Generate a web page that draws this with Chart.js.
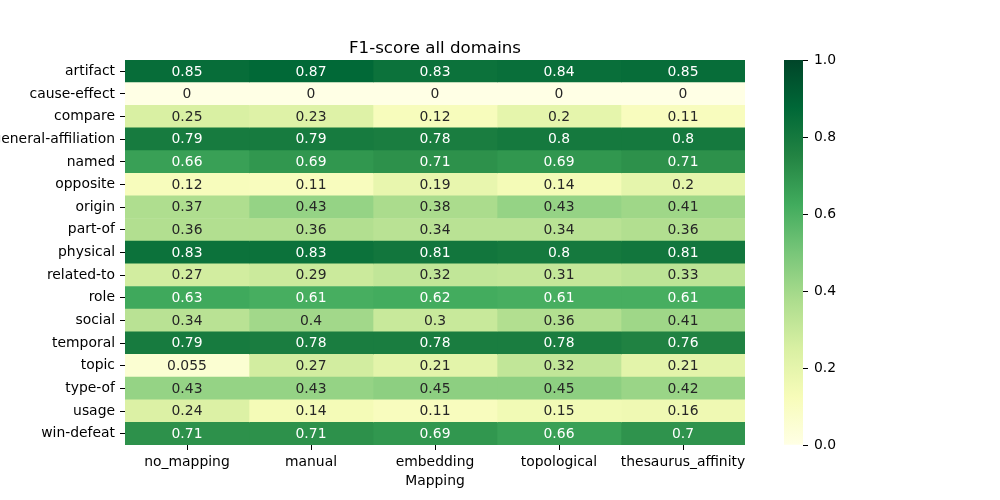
<!DOCTYPE html>
<html><head><meta charset="utf-8">
<script src="https://cdn.jsdelivr.net/npm/chart.js@4.4.1/dist/chart.umd.min.js"></script>
<style>
html,body{margin:0;padding:0;background:#fff;}
#wrap{position:relative;width:1000px;height:500px;overflow:hidden;}
#main{position:absolute;left:0;top:0;width:1000px;height:500px;}
#cbar{position:absolute;left:784px;top:0;width:216px;height:500px;}
</style></head><body>
<div id="wrap"><div id="main"><canvas id="c1"></canvas></div><div id="cbar"><canvas id="c2"></canvas></div></div>
<script>
const chartTitle = 'F1-score all domains';
const xAxisTitle = 'Mapping';
const relations = ['artifact','cause-effect','compare','general-affiliation','named','opposite','origin','part-of','physical','related-to','role','social','temporal','topic','type-of','usage','win-defeat'];
const mappings = ['no_mapping','manual','embedding','topological','thesaurus_affinity'];
const noMapping         = [0.85,0,0.25,0.79,0.66,0.12,0.37,0.36,0.83,0.27,0.63,0.34,0.79,0.055,0.43,0.24,0.71];
const manual            = [0.87,0,0.23,0.79,0.69,0.11,0.43,0.36,0.83,0.29,0.61,0.40,0.78,0.27,0.43,0.14,0.71];
const embedding         = [0.83,0,0.12,0.78,0.71,0.19,0.38,0.34,0.81,0.32,0.62,0.30,0.78,0.21,0.45,0.11,0.69];
const topological       = [0.84,0,0.20,0.80,0.69,0.14,0.43,0.34,0.80,0.31,0.61,0.36,0.78,0.32,0.45,0.15,0.66];
const thesaurusAffinity = [0.85,0,0.11,0.80,0.71,0.20,0.41,0.36,0.81,0.33,0.61,0.41,0.76,0.21,0.42,0.16,0.70];
const colorbarTicks = [0.0,0.2,0.4,0.6,0.8,1.0];

const columns = [noMapping, manual, embedding, topological, thesaurusAffinity];
const FONT = '"DejaVu Sans", sans-serif';
const FS = 13.9;

// YlGn colormap anchors (matplotlib)
const YLGN = [[255,255,229],[247,252,185],[217,240,163],[173,221,142],[120,198,121],[65,171,93],[35,132,67],[0,104,55],[0,69,41]];
function cmapRGB(v){
  const idx = Math.min(255, Math.max(0, Math.floor(v*256)));
  const t = idx/255*8;
  const k = Math.min(7, Math.floor(t)), f = t - k;
  const a = YLGN[k], b = YLGN[k+1];
  return [0,1,2].map(c => a[c] + (b[c]-a[c])*f);
}
function cmap(v){ const c = cmapRGB(v); return `rgb(${c.map(Math.round).join(',')})`; }
function lum(rgb){
  const l = rgb.map(x => { x/=255; return x <= 0.03928 ? x/12.92 : Math.pow((x+0.055)/1.055, 2.4); });
  return 0.2126*l[0] + 0.7152*l[1] + 0.0722*l[2];
}
function textColor(v){ return lum(cmapRGB(v)) > 0.408 ? '#262626' : '#ffffff'; }
function fmt(v){ return String(Number(v.toPrecision(2))); }

const annot = {
  id: 'annot',
  afterDatasetsDraw(chart){
    const ctx = chart.ctx, xs = chart.scales.x, ys = chart.scales.y, ca = chart.chartArea;
    ctx.save();
    ctx.font = `${FS}px ${FONT}`;
    ctx.textAlign = 'center';
    ctx.textBaseline = 'alphabetic';
    columns.forEach((col, i) => col.forEach((v, j) => {
      ctx.fillStyle = textColor(v);
      ctx.fillText(fmt(v), xs.getPixelForValue(i + 0.5), ys.getPixelForValue(j) + 4.2);
    }));
    ctx.fillStyle = '#000';
    ctx.font = `16.67px ${FONT}`;
    ctx.fillText(chartTitle, (ca.left + ca.right)/2, ca.top - 7.5);
    ctx.restore();
  }
};

new Chart(document.getElementById('c1'), {
  type: 'bar',
  data: {
    labels: relations,
    datasets: columns.map((col, i) => ({
      label: mappings[i],
      data: col.map(() => 1),
      backgroundColor: col.map(v => cmap(v)),
      borderWidth: 0,
      barPercentage: 1,
      categoryPercentage: 1
    }))
  },
  options: {
    indexAxis: 'y',
    responsive: true,
    maintainAspectRatio: false,
    animation: false,
    layout: { padding: { left: 0, right: 255, top: 60, bottom: 0 } },
    plugins: { legend: { display: false }, tooltip: { enabled: false }, title: { display: false } },
    scales: {
      x: {
        type: 'linear', stacked: true, min: 0, max: 5, position: 'bottom',
        afterBuildTicks: s => { s.ticks = mappings.map((m, i) => ({ value: i + 0.5 })); },
        afterFit: s => { s.height = 55; },
        ticks: { callback: v => mappings[Math.floor(v)], color: '#000', font: { family: FONT, size: FS }, padding: 4, maxRotation: 0, autoSkip: false },
        grid: { drawOnChartArea: false, drawTicks: true, tickLength: 5, color: '#000', lineWidth: 1 },
        border: { display: false },
        title: { display: true, text: xAxisTitle, color: '#000', font: { family: FONT, size: FS }, padding: { top: 0, bottom: 10 } }
      },
      y: {
        type: 'category', stacked: true, position: 'left',
        afterFit: s => { s.width = 125; },
        ticks: { color: '#000', font: { family: FONT, size: FS }, padding: 5, autoSkip: false },
        grid: { drawOnChartArea: false, drawTicks: true, tickLength: 5, color: '#000', offset: false },
        border: { display: false }
      }
    }
  },
  plugins: [annot]
});

new Chart(document.getElementById('c2'), {
  type: 'bar',
  data: {
    labels: ['colorbar'],
    datasets: [{
      data: [1],
      backgroundColor: (ctx) => {
        const ca = ctx.chart.chartArea;
        if (!ca) return 'transparent';
        const g = ctx.chart.ctx.createLinearGradient(0, ca.bottom, 0, ca.top);
        YLGN.forEach((c, k) => g.addColorStop(k/8, `rgb(${c.join(',')})`));
        return g;
      },
      borderWidth: 0, barPercentage: 1, categoryPercentage: 1
    }]
  },
  options: {
    responsive: true, maintainAspectRatio: false, animation: false,
    layout: { padding: { left: 0, right: 137, top: 60, bottom: 55 } },
    plugins: { legend: { display: false }, tooltip: { enabled: false } },
    scales: {
      x: { display: false },
      y: {
        position: 'right', min: 0, max: 1,
        afterBuildTicks: s => { s.ticks = colorbarTicks.map(v => ({ value: v })); },
        afterFit: s => { s.width = 60; },
        ticks: { callback: v => Number(v).toFixed(1), color: '#000', font: { family: FONT, size: FS }, padding: 6 },
        grid: { drawOnChartArea: false, drawTicks: true, tickLength: 5, color: '#000' },
        border: { display: false }
      }
    }
  }
});
</script>
</body></html>
